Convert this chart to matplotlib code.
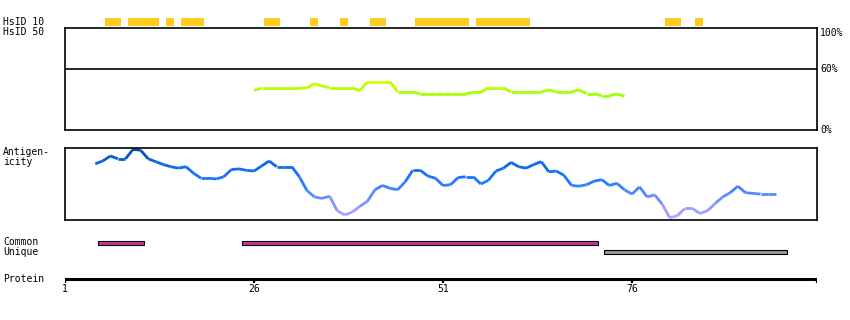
import matplotlib
matplotlib.use("Agg")
import matplotlib.pyplot as plt
from matplotlib.collections import LineCollection
from matplotlib.colors import LinearSegmentedColormap
import numpy as np

# HsID 10 identity segments (residue ranges)
hsid10_segments = [(6, 8), (9, 13), (14, 15), (16, 19), (27, 29), (33, 34),
                   (37, 38), (41, 43), (47, 54), (55, 62), (80, 82), (84, 85)]

# HsID 50 identity (%) for residues 26..75
hsid50_start = 26
hsid50_pct = [38.8, 41.0, 41.0, 41.0, 41.0, 41.0, 41.0, 41.3, 45.2, 43.3,
              41.3, 41.3, 41.3, 41.3, 38.6, 47.2, 47.2, 47.2, 47.2, 37.4,
              37.4, 37.4, 35.4, 35.4, 35.4, 35.4, 35.4, 35.4, 35.4, 37.1,
              37.1, 41.3, 41.3, 41.3, 37.4, 37.4, 37.4, 37.4, 37.4, 39.3,
              37.4, 37.4, 37.4, 39.3, 35.7, 35.7, 33.4, 33.4, 35.4, 33.1]

# Antigenicity score (0..1) for residues 5..95
antigen_start = 5
antigen = [0.78, 0.82, 0.89, 0.85, 0.85, 0.98, 0.97, 0.85, 0.81, 0.77,
           0.74, 0.72, 0.74, 0.65, 0.58, 0.58, 0.57, 0.60, 0.70, 0.71,
           0.69, 0.68, 0.75, 0.82, 0.74, 0.74, 0.74, 0.60, 0.41, 0.32,
           0.30, 0.33, 0.13, 0.07, 0.11, 0.19, 0.26, 0.42, 0.48, 0.44,
           0.42, 0.53, 0.69, 0.69, 0.61, 0.58, 0.48, 0.49, 0.59, 0.60,
           0.60, 0.50, 0.55, 0.68, 0.72, 0.80, 0.74, 0.72, 0.77, 0.81,
           0.67, 0.68, 0.62, 0.48, 0.47, 0.49, 0.54, 0.56, 0.48, 0.51,
           0.42, 0.36, 0.46, 0.32, 0.35, 0.22, 0.03, 0.06, 0.16, 0.16,
           0.09, 0.13, 0.23, 0.32, 0.38, 0.47, 0.38, 0.37, 0.36, 0.36,
           0.36]

common_segments = [(5, 11), (24, 71)]
unique_segments = [(72, 96)]

protein_ticks = [1, 26, 51, 76]
protein_end = 100.47

W, H = 850, 320
fig = plt.figure(figsize=(W / 100, H / 100), dpi=100)
plt.rcParams['font.family'] = 'DejaVu Sans Mono'
FS = 7


def px_axes(x0, y0, x1, y1):
    return fig.add_axes([x0 / W, 1 - y1 / H, (x1 - x0) / W, (y1 - y0) / H])


XL, XR = 65, 817
xlim = (1, protein_end)
s0, s1 = 0.35, 0.45  # drawing offsets of segment ends

# HsID 10 track
ax10 = px_axes(XL, 18, XR, 26)
for a, b in hsid10_segments:
    ax10.axvspan(a + s0, b + s1, color='#ffcc22', lw=0)
ax10.set_xlim(xlim)
ax10.axis('off')

# HsID 50 panel
ax50 = px_axes(XL, 28, XR, 130)
ax50.set_xlim(xlim)
ax50.set_ylim(0, 100)
ax50.axhline(60, color='black', lw=1.2)
x50 = np.arange(hsid50_start, hsid50_start + len(hsid50_pct))
y50 = np.array(hsid50_pct)
pts = np.column_stack([x50, y50]).reshape(-1, 1, 2)
segs = np.concatenate([pts[:-1], pts[1:]], axis=1)
gcmap = LinearSegmentedColormap.from_list('g', ['#99ff00', '#ccff00'])
lc = LineCollection(segs, cmap=gcmap, linewidths=2)
lc.set_array((y50[:-1] + y50[1:]) / 2)
lc.set_clim(33, 47)
ax50.add_collection(lc)
ax50.set_xticks([])
ax50.set_yticks([])
for sp in ax50.spines.values():
    sp.set_linewidth(1.2)
ax50.text(1.004, 1.0, '100%', transform=ax50.transAxes, fontsize=FS, va='top', ha='left')
ax50.text(1.004, 0.6, '60%', transform=ax50.transAxes, fontsize=FS, va='center', ha='left')
ax50.text(1.004, 0.0, '0%', transform=ax50.transAxes, fontsize=FS, va='center', ha='left')

# Antigenicity panel
axa = px_axes(XL, 148, XR, 220)
axa.set_xlim(xlim)
axa.set_ylim(0, 1)
xa = np.arange(antigen_start, antigen_start + len(antigen))
ya = np.array(antigen)
pts = np.column_stack([xa, ya]).reshape(-1, 1, 2)
segs = np.concatenate([pts[:-1], pts[1:]], axis=1)
bcmap = LinearSegmentedColormap.from_list(
    'b', [(0.0, '#bbaaff'), (0.15, '#9a9cff'), (0.35, '#5a8cff'),
          (0.55, '#1f78ff'), (0.8, '#0a66ee'), (1.0, '#004c99')])
lc = LineCollection(segs, cmap=bcmap, linewidths=2)
lc.set_array((ya[:-1] + ya[1:]) / 2)
lc.set_clim(0, 1)
axa.add_collection(lc)
axa.set_xticks([])
axa.set_yticks([])
for sp in axa.spines.values():
    sp.set_linewidth(1.2)

# Common / Unique tracks
axc = px_axes(XL, 238, XR, 257)
axc.set_xlim(xlim)
axc.set_ylim(0, 2)
for a, b in common_segments:
    axc.barh(1.5, (b + s1) - (a + s0), left=a + s0, height=0.42,
             color='#cc3399', edgecolor='black', lw=0.8)
for a, b in unique_segments:
    axc.barh(0.5, (b + s1) - (a + s0), left=a + s0, height=0.42,
             color='#999999', edgecolor='black', lw=0.8)
axc.axis('off')

# Protein axis
axp = px_axes(XL, 270, XR, 300)
axp.set_xlim(xlim)
axp.set_ylim(0, 1)
axp.axhline(0.7, color='black', lw=2.2)
for t in protein_ticks + [protein_end]:
    axp.plot([t, t], [0.7, 0.56], color='black', lw=1.6, solid_capstyle='butt')
for t in protein_ticks:
    axp.text(t, 0.38, str(t), fontsize=FS, ha='center', va='center')
axp.axis('off')

# Left labels
labels = [('HsID 10', 22), ('HsID 50', 32), ('Antigen-', 152), ('icity', 162),
          ('Common', 242), ('Unique', 252), ('Protein', 279)]
for txt, y in labels:
    fig.text(3 / W, 1 - y / H, txt, fontsize=FS, va='center', ha='left')

fig.savefig('out.png', dpi=100)
